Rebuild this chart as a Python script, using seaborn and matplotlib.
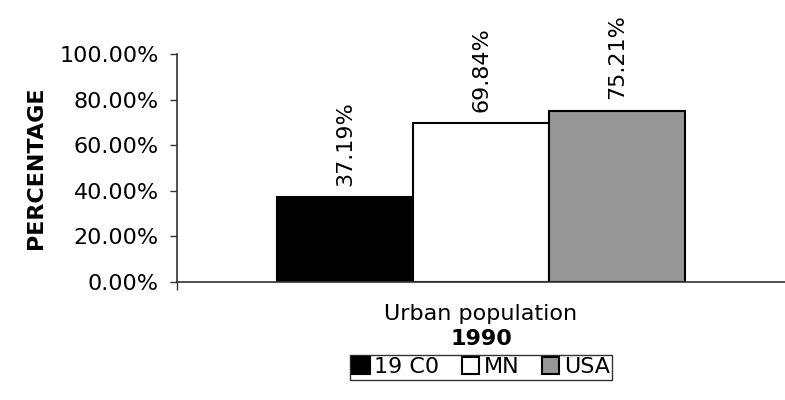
import numpy as np
import pandas as pd
import seaborn as sns
import matplotlib
import matplotlib.pyplot as plt
from matplotlib.ticker import PercentFormatter

matplotlib.use("Agg")

# %% data
indicator = ["Urban population"]
groups = ["19 C0", "MN", "USA"]
values = [37.19, 69.84, 75.21]
colors = ["#000000", "#ffffff", "#969696"]

df = pd.DataFrame({
    "indicator": indicator * len(groups),
    "group": groups,
    "value": values,
})

# %% plot
sns.set_style("white")
plt.rcParams["font.family"] = ["DejaVu Sans"]
plt.rcParams.update({
    "text.color": "black",
    "axes.labelcolor": "black",
    "xtick.color": "black",
    "ytick.color": "black",
})
fs = 16

fig = plt.figure(figsize=(7.85, 4.0), dpi=100)
ax = fig.add_axes([0.2255, 0.295, 0.7745, 0.57])

bar = sns.barplot(
    data=df,
    x="indicator",
    y="value",
    hue="group",
    hue_order=groups,
    palette=colors,
    edgecolor="black",
    linewidth=1.5,
    width=0.67,
    gap=0,
    ax=ax,
)

for cont, v in zip(ax.containers, values):
    ax.bar_label(cont, labels=[f"{v:.2f}%"], rotation=90, padding=8,
                 fontsize=fs, clip_on=False)

ax.set_ylim(0, 100)
ax.set_xlim(-0.5, 0.5)
ax.set_yticks(np.arange(0, 101, 20))
ax.yaxis.set_major_formatter(PercentFormatter(xmax=100, decimals=2))
ax.tick_params(axis="y", which="major", left=True, length=5, width=1,
               color="#333333", labelsize=fs, pad=8)
ax.tick_params(axis="x", which="major", bottom=False, labelsize=fs, pad=12)
ax.set_xticks([-0.5], minor=True)
ax.tick_params(axis="x", which="minor", bottom=True, length=6, width=1,
               color="#333333")

ax.set_ylabel("PERCENTAGE", fontsize=fs, fontweight="bold", labelpad=10)
ax.set_xlabel("1990", fontsize=fs, fontweight="bold", labelpad=4)

sns.despine(ax=ax, top=True, right=True)
for side in ["left", "bottom"]:
    ax.spines[side].set_color("#333333")
    ax.spines[side].set_linewidth(1.2)

ax.legend(
    loc="upper center",
    bbox_to_anchor=(0.5, -0.32),
    ncol=3,
    frameon=True,
    fancybox=False,
    edgecolor="black",
    fontsize=fs,
    handlelength=0.8,
    handleheight=0.8,
    handletextpad=0.2,
    columnspacing=1.0,
    borderpad=0.1,
    borderaxespad=0,
)
ax.get_legend().get_frame().set_linewidth(1.0)

fig.savefig("out.png", dpi=100)
